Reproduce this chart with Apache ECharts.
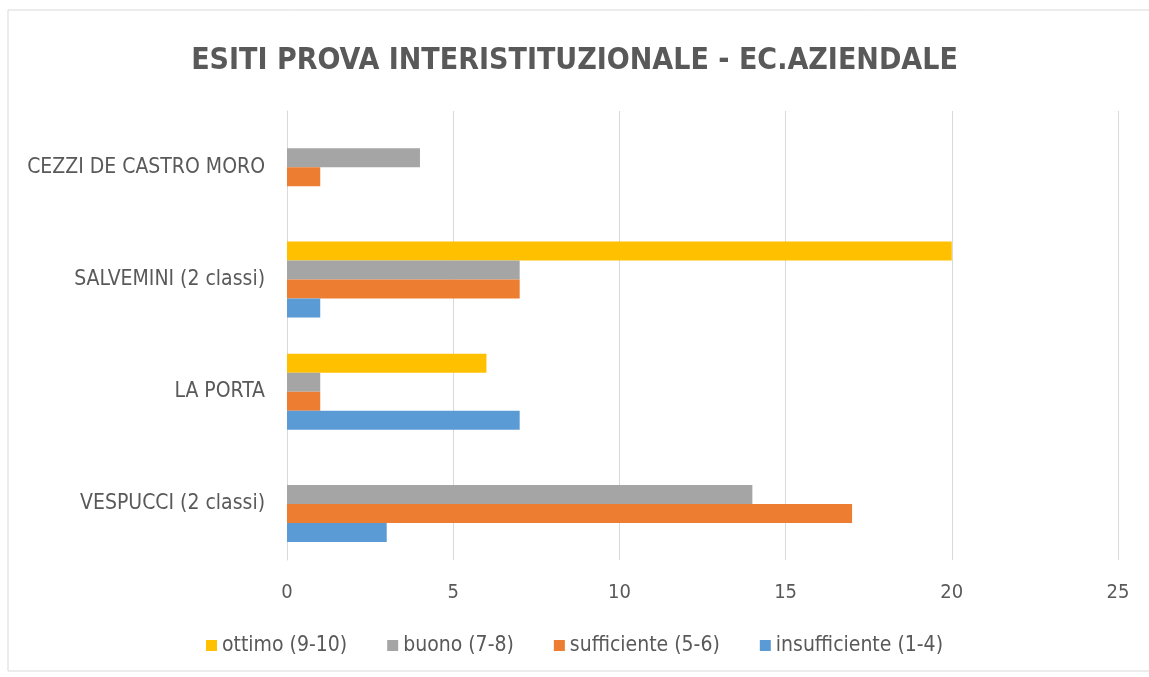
<!DOCTYPE html>
<html lang="it">
<head>
    <meta charset="UTF-8">
    <script src="https://cdn.jsdelivr.net/npm/echarts@6/dist/echarts.min.js"></script>
    <style>
        body, html {
            margin: 0;
            height: 100%;
            background: #fff;
        }

        #main {
            width: 1149px;
            height: 677px;
        }
    </style>
    <title>Esiti prova interistituzionale</title>
</head>
<body>

<div id="main"></div>
<script type="text/javascript">
    const myChart = echarts.init(document.getElementById('main'));

    // categorie dal basso verso l'alto
    const scuole = ['VESPUCCI (2 classi)', 'LA PORTA', 'SALVEMINI (2 classi)', 'CEZZI DE CASTRO MORO'];
    const fasce = ['ottimo (9-10)', 'buono (7-8)', 'sufficiente (5-6)', 'insufficiente (1-4)'];
    const ottimo = [0, 6, 20, 0];
    const buono = [14, 1, 7, 4];
    const sufficiente = [17, 1, 7, 1];
    const insufficiente = [3, 7, 1, 0];
    const colori = ['#FFC000', '#A5A5A5', '#ED7D31', '#5B9BD5'];

    const font = "'Liberation Sans Narrow', 'DejaVu Sans Condensed', sans-serif";
    const valori = [ottimo, buono, sufficiente, insufficiente];

    const serie = fasce.map(function (nome, i) {
        return {
            name: nome,
            type: 'bar',
            data: valori[i],
            barWidth: 19,
            barGap: '0%',
            itemStyle: {color: colori[i]},
            emphasis: {disabled: true}
        };
    });

    var option = {
        animation: false,
        color: colori,
        title: {
            text: 'ESITI PROVA INTERISTITUZIONALE - EC.AZIENDALE',
            left: 'center',
            top: 41,
            textStyle: {
                fontFamily: font,
                fontSize: 30,
                fontWeight: 'bold',
                color: '#595959'
            }
        },
        graphic: [{
            type: 'rect',
            shape: {x: 8, y: 10, width: 1150, height: 661},
            style: {fill: 'none', stroke: '#d9d9d9', lineWidth: 1},
            silent: true
        }],
        legend: {
            data: fasce,
            top: 630,
            left: 'center',
            icon: 'rect',
            itemWidth: 11,
            itemHeight: 11,
            itemGap: 40,
            textStyle: {
                fontFamily: font,
                fontSize: 21,
                color: '#595959'
            }
        },
        grid: {
            left: 287,
            right: 31,
            top: 111,
            bottom: 117
        },
        xAxis: {
            type: 'value',
            min: 0,
            max: 25,
            interval: 5,
            axisLine: {show: false},
            axisTick: {show: false},
            axisLabel: {
                margin: 23,
                fontFamily: font,
                fontSize: 20,
                color: '#595959'
            },
            splitLine: {lineStyle: {color: '#d9d9d9'}}
        },
        yAxis: {
            type: 'category',
            data: scuole,
            axisLine: {lineStyle: {color: '#d9d9d9'}},
            axisTick: {show: false},
            axisLabel: {
                margin: 22,
                fontFamily: font,
                fontSize: 21,
                color: '#595959'
            }
        },
        series: serie
    };
    myChart.setOption(option);
</script>
</body>
</html>
